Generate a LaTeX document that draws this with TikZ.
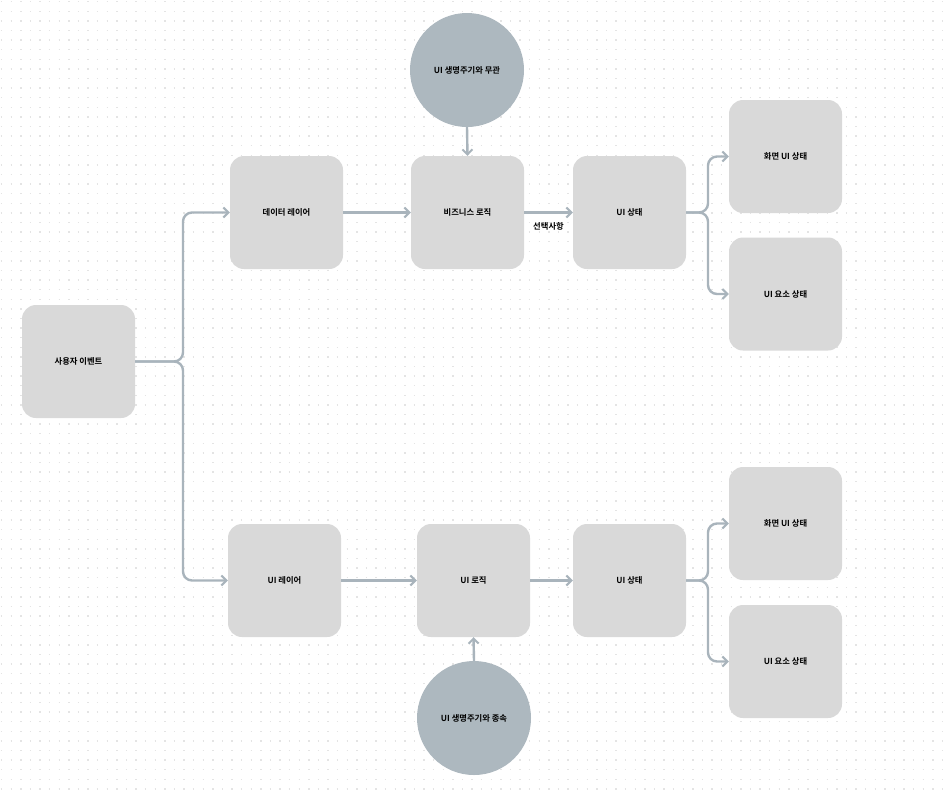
\documentclass[tikz,border=0pt]{standalone}
\usepackage{fontspec}
\newfontfamily\kr{Noto Sans CJK KR}[BoldFont={Noto Sans CJK KR Bold}]
\usetikzlibrary{arrows.meta}
\definecolor{boxfill}{HTML}{D9D9D9}
\definecolor{circfill}{HTML}{ADB8BF}
\definecolor{linec}{HTML}{A9B4BC}
\definecolor{dotc}{HTML}{E4E4E4}
\begin{document}
\begin{tikzpicture}[x=1pt,y=-1pt,
  txt/.style={font=\kr\bfseries\fontsize{8.3}{9}\selectfont},
  box/.style={txt,draw=none,fill=boxfill,rounded corners=14pt,minimum width=113pt,minimum height=113pt,inner sep=0pt},
  circ/.style={txt,circle,draw=none,fill=circfill,minimum size=114pt,inner sep=0pt},
  conn/.style={draw=linec,line width=2.4pt,rounded corners=9pt,-{Straight Barb[length=5pt,width=10pt,line width=2pt]}},
  lbl/.style={txt,inner sep=1pt},
  dotrow/.style={draw=dotc,line width=1.5pt,dash pattern=on 1.5pt off 8.1pt}]
\useasboundingbox (0,0) rectangle (949,793);
\fill[white] (0,0) rectangle (949,793);
\foreach \j in {0,...,82}{
  \draw[dotrow] (0.95,1.7+9.6*\j) -- (949,1.7+9.6*\j);
}
% nodes
\node[box] (ev) at (78.5,361.5) {사용자 이벤트};
\node[box] (dl) at (286.5,212.5) {데이터 레이어};
\node[box] (bl) at (467.5,212.5) {비즈니스 로직};
\node[box] (us1) at (629.5,212.5) {UI 상태};
\node[box] (sc1) at (785.5,156.5) {화면 UI 상태};
\node[box] (el1) at (785.5,294) {UI 요소 상태};
\node[circ] (c1) at (467,70) {UI 생명주기와 무관};
\node[box] (ul) at (284.5,580.5) {UI 레이어};
\node[box] (lg) at (473.5,580.5) {UI 로직};
\node[box] (us2) at (629.5,580.5) {UI 상태};
\node[box] (sc2) at (785.5,523.5) {화면 UI 상태};
\node[box] (el2) at (785.5,661.5) {UI 요소 상태};
\node[circ] (c2) at (474,718) {UI 생명주기와 종속};
% junctions
\coordinate (j1) at (183,361.5);
\coordinate (j2) at (708,212.5);
\coordinate (j3) at (708,580.5);
% connectors
\draw[conn] (ev.east) -- (j1) |- (dl.west);
\draw[conn] (ev.east) -- (j1) |- (ul.west);
\draw[conn] (dl.east) -- (bl.west);
\draw[conn] (c1.south) -- (bl.north);
\draw[conn] (bl.east) -- node[lbl,below=8pt] {선택사항} (us1.west);
\draw[conn] (us1.east) -- (j2) |- (sc1.west);
\draw[conn] (us1.east) -- (j2) |- (el1.west);
\draw[conn] (ul.east) -- (lg.west);
\draw[conn] (c2.north) -- (lg.south);
\draw[conn] (lg.east) -- (us2.west);
\draw[conn] (us2.east) -- (j3) |- (sc2.west);
\draw[conn] (us2.east) -- (j3) |- (el2.west);
\end{tikzpicture}
\end{document}
